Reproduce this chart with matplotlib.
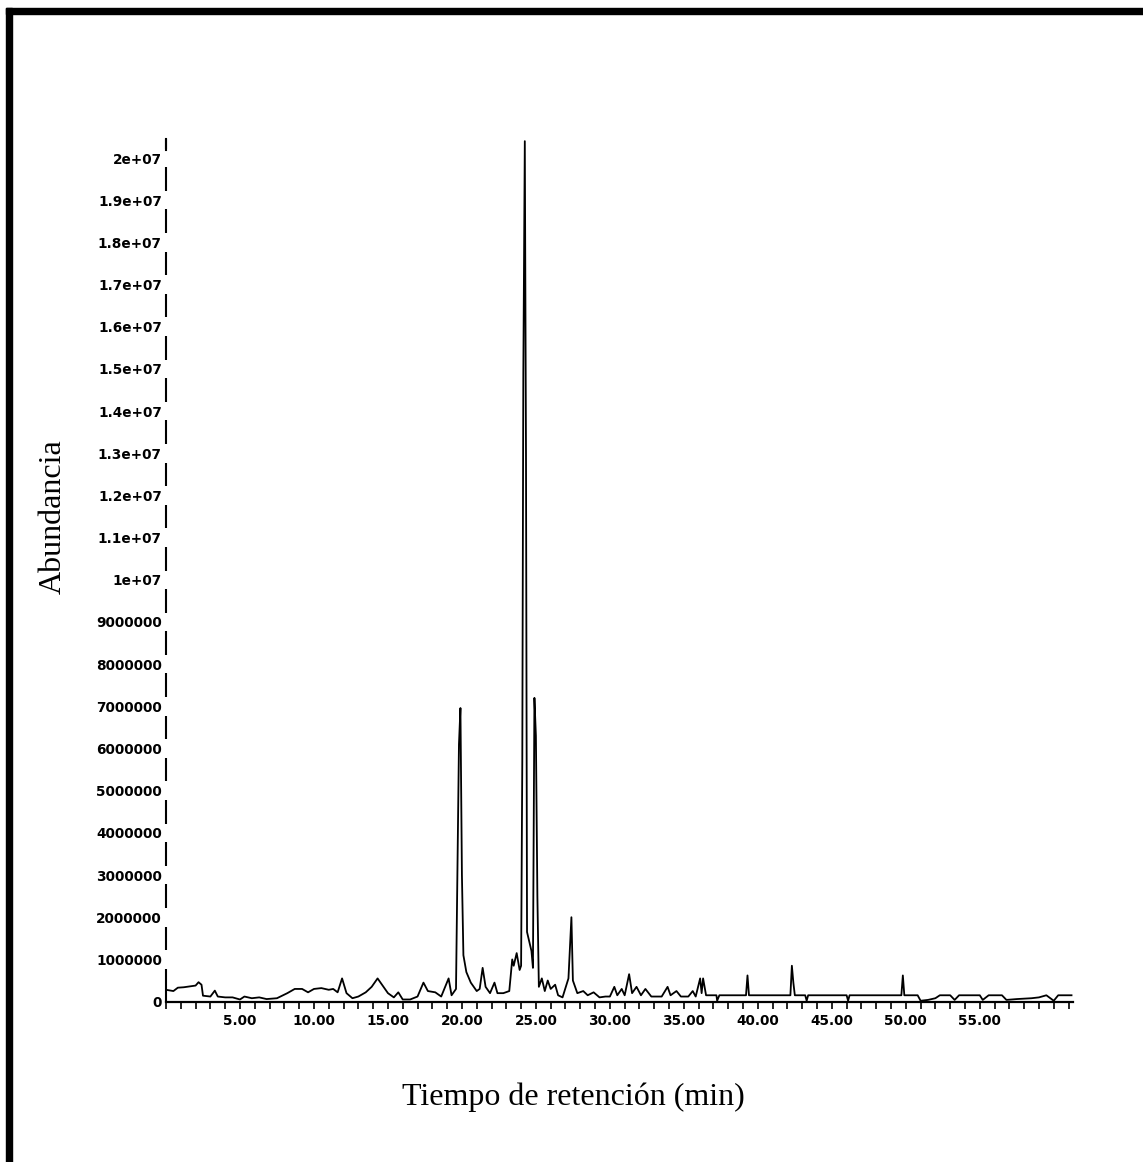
import matplotlib
matplotlib.use('Agg')
import matplotlib.pyplot as plt
from matplotlib.patches import Rectangle

# retention time (min) and abundance (millions)
time_min = [0.0, 0.5, 0.8, 1.2, 1.6, 2.0, 2.2, 2.4, 2.5, 3.0, 3.3, 3.5, 4.0, 4.5,
            5.0, 5.3, 5.8, 6.3, 6.8, 7.5, 8.2, 8.7, 9.2, 9.6, 10.0, 10.5, 11.0,
            11.3, 11.6, 11.9, 12.2, 12.6, 13.0, 13.5, 13.9, 14.3, 14.6, 15.0,
            15.4, 15.7, 16.0, 16.5, 17.0, 17.4, 17.7, 18.2, 18.6, 19.1, 19.3,
            19.6, 19.8, 19.9, 20.0, 20.1, 20.3, 20.6, 21.0, 21.2, 21.4, 21.6,
            21.9, 22.2, 22.4, 22.8, 23.2, 23.4, 23.5, 23.7, 23.9, 24.0, 24.08,
            24.15, 24.25, 24.33, 24.4, 24.7, 24.8, 24.9, 25.0, 25.1, 25.2, 25.4,
            25.6, 25.8, 26.0, 26.3, 26.5, 26.8, 27.2, 27.4, 27.5, 27.8, 28.2,
            28.5, 28.9, 29.3, 29.7, 30.0, 30.3, 30.5, 30.8, 31.0, 31.3, 31.5,
            31.8, 32.1, 32.4, 32.8, 33.5, 33.9, 34.1, 34.5, 34.8, 35.3, 35.6,
            35.8, 36.1, 36.2, 36.3, 36.5, 37.2, 37.25, 37.4, 39.2, 39.3, 39.4,
            42.2, 42.3, 42.4, 42.5, 43.2, 43.3, 43.4, 46.0, 46.1, 46.2, 49.7,
            49.8, 49.9, 50.8, 51.0, 51.5, 52.0, 52.3, 53.0, 53.3, 53.6, 55.0,
            55.2, 55.6, 56.5, 56.8, 57.5, 58.5, 59.0, 59.5, 60.0, 60.3, 61.2]
abund_m = [0.28, 0.25, 0.33, 0.34, 0.36, 0.38, 0.46, 0.40, 0.14, 0.12, 0.26, 0.12, 0.10, 0.10,
           0.05, 0.12, 0.08, 0.10, 0.06, 0.08, 0.20, 0.30, 0.30, 0.22, 0.30, 0.32, 0.28,
           0.30, 0.22, 0.55, 0.20, 0.08, 0.12, 0.22, 0.35, 0.55, 0.40, 0.20,
           0.10, 0.22, 0.05, 0.05, 0.12, 0.45, 0.25, 0.22, 0.12, 0.55, 0.15,
           0.30, 6.10, 6.96, 3.00, 1.10, 0.70, 0.45, 0.25, 0.30, 0.80, 0.35,
           0.20, 0.45, 0.20, 0.20, 0.25, 1.00, 0.85, 1.15, 0.75, 0.85, 5.70,
           14.9, 20.4, 13.0, 1.65, 1.20, 0.80, 7.20, 6.30, 2.50, 0.35, 0.55,
           0.25, 0.50, 0.30, 0.40, 0.15, 0.10, 0.55, 2.00, 0.50, 0.20, 0.25,
           0.15, 0.22, 0.10, 0.12, 0.12, 0.35, 0.15, 0.30, 0.15, 0.65, 0.20,
           0.35, 0.15, 0.30, 0.12, 0.12, 0.35, 0.15, 0.25, 0.12, 0.12, 0.25,
           0.12, 0.55, 0.20, 0.55, 0.15, 0.15, 0.02, 0.15, 0.15, 0.62, 0.15,
           0.15, 0.85, 0.45, 0.15, 0.15, 0.02, 0.15, 0.15, 0.02, 0.15, 0.15,
           0.62, 0.15, 0.15, 0.02, 0.04, 0.08, 0.15, 0.15, 0.04, 0.15, 0.15,
           0.04, 0.15, 0.15, 0.04, 0.06, 0.08, 0.10, 0.15, 0.02, 0.15, 0.15]

ytick_vals = [i * 1e6 for i in range(21)]
ytick_labels = ['0', '1000000', '2000000', '3000000', '4000000', '5000000',
                '6000000', '7000000', '8000000', '9000000', '1e+07', '1.1e+07',
                '1.2e+07', '1.3e+07', '1.4e+07', '1.5e+07', '1.6e+07', '1.7e+07',
                '1.8e+07', '1.9e+07', '2e+07']
xtick_vals = list(range(0, 62))
xlabel_vals = [5, 10, 15, 20, 25, 30, 35, 40, 45, 50, 55]

W, H = 1143, 1162
fig = plt.figure(figsize=(W / 100, H / 100), dpi=100)
ax = fig.add_axes([166 / W, (H - 1001.6) / H, 907 / W, (1001.6 - 142) / H])

abund = [v * 1e6 for v in abund_m]
ax.plot(time_min, abund, color='black', lw=1.3, clip_on=False)

ax.set_xlim(0, 61.3)
ax.set_ylim(0, 20.38e6)

for s in ['top', 'right', 'left']:
    ax.spines[s].set_visible(False)
ax.spines['bottom'].set_linewidth(1.6)

# broken y axis: segments between tick labels
for i, v in enumerate(ytick_vals):
    lo = v + 0.22e6 if i > 0 else 0
    hi = min(v + 0.78e6, 20.45e6)
    ax.plot([0, 0], [lo, hi], color='black', lw=1.5, clip_on=False,
            solid_capstyle='butt')
ax.plot([0, 0], [20.2e6, 20.45e6], color='black', lw=1.5, clip_on=False)

ax.set_yticks(ytick_vals)
ax.set_yticklabels(ytick_labels)
ax.tick_params(axis='y', length=0, pad=3, labelsize=9.8)
for t in ax.get_yticklabels():
    t.set_fontweight('bold')

ax.set_xticks(xtick_vals)
ax.set_xticklabels([f'{v:.2f}' if v in xlabel_vals else '' for v in xtick_vals])
ax.tick_params(axis='x', direction='out', length=5, width=1.2, pad=4, labelsize=9.8)
for t in ax.get_xticklabels():
    t.set_fontweight('bold')

fig.text(573 / W, (H - 1097) / H, 'Tiempo de retención (min)',
         family='Liberation Serif', fontsize=23, ha='center', va='center')
fig.text(53 / W, (H - 517) / H, 'Abundancia', family='Liberation Serif',
         fontsize=23, rotation=90, ha='center', va='center')

# thick frame on left and top
fig.patches.append(Rectangle((6 / W, 0), 6 / W, (H - 8) / H, transform=fig.transFigure,
                             color='black', zorder=10))
fig.patches.append(Rectangle((6 / W, (H - 14) / H), 1 - 6 / W, 6 / H,
                             transform=fig.transFigure, color='black', zorder=10))

fig.savefig('out.png', dpi=100)
